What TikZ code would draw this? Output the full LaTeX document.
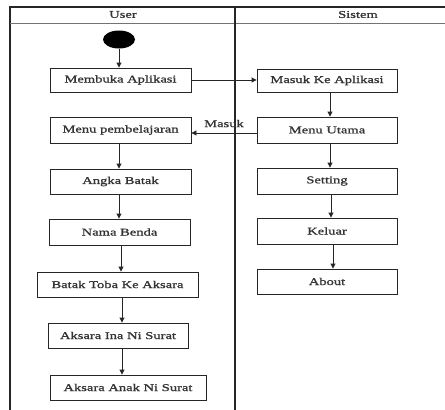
\documentclass[tikz,border=0pt]{standalone}
\usepackage{fontspec}
\setmainfont{Liberation Serif}[FakeStretch=1.4,FakeBold=1.2]
\usetikzlibrary{arrows.meta,shapes.geometric}
\begin{document}
\begin{tikzpicture}[x=1pt,y=-1pt,
  act/.style={draw=black!85, line width=0.9pt, rectangle, inner sep=0pt, font=\fontsize{10.4}{12}\selectfont, text=black!80},
  flow/.style={draw=black!85, line width=0.9pt, -{Triangle[length=5pt,width=5pt]}},
  lane/.style={draw=black!85, line width=1.3pt}]
\useasboundingbox (0,0) rectangle (445,410);
\begin{scope}
\clip (0,0) rectangle (445,410);
% swimlane frame
\draw[lane] (10,410) -- (10,7) -- (460,7);
\draw[draw=black!55, line width=1.3pt] (10,23.5) -- (460,23.5);
\draw[lane] (235,7) -- (235,410);
\end{scope}
\node[font=\fontsize{10.4}{12}\selectfont, text=black!80] (user) at (123,14.5) {User};
\node[font=\fontsize{10.4}{12}\selectfont, text=black!80] (sistem) at (358,14.5) {Sistem};
% start
\node[fill=black, ellipse, minimum width=32pt, minimum height=18pt, inner sep=0pt] (start) at (119,39.5) {};
% user lane
\node[act, minimum width=141pt, minimum height=24pt] (membuka) at (120.5,80) {Membuka Aplikasi};
\node[act, minimum width=141pt, minimum height=26pt] (menupb) at (120.5,130) {Menu pembelajaran};
\node[act, minimum width=141pt, minimum height=25pt] (angka) at (120.5,181.5) {Angka Batak};
\node[act, minimum width=141pt, minimum height=26pt] (nama) at (119.5,232) {Nama Benda};
\node[act, minimum width=161pt, minimum height=25pt] (toba) at (117.5,284.5) {Batak Toba Ke Aksara};
\node[act, minimum width=140pt, minimum height=25pt] (ina) at (118,335.5) {Aksara Ina Ni Surat};
\node[act, minimum width=156pt, minimum height=25pt] (anak) at (128,387.5) {Aksara Anak Ni Surat};
% system lane
\node[act, minimum width=140pt, minimum height=23pt] (masukke) at (327,80.5) {Masuk Ke Aplikasi};
\node[act, minimum width=140pt, minimum height=26pt] (utama) at (327,130) {Menu Utama};
\node[act, minimum width=140pt, minimum height=26pt] (setting) at (327,181) {Setting};
\node[act, minimum width=140pt, minimum height=26pt] (keluar) at (327,231) {Keluar};
\node[act, minimum width=140pt, minimum height=25pt] (about) at (327,281.5) {About};
% flows
\draw[flow] (start.south) -- (start.south |- membuka.north);
\draw[flow] (membuka.east) -- (masukke.west |- membuka.east);
\draw[flow] (masukke.south -| 330,0) -- (330,0 |- utama.north);
\draw[flow] (utama.west |- 0,133) -- node[above, font=\fontsize{10.4}{12}\selectfont, text=black!80, yshift=2pt] (lbl) {Masuk} (menupb.east |- 0,133);
\draw[flow] (menupb.south -| 119,0) -- (119,0 |- angka.north);
\draw[flow] (angka.south -| 119,0) -- (119,0 |- nama.north);
\draw[flow] (nama.south -| 121,0) -- (121,0 |- toba.north);
\draw[flow] (toba.south -| 122,0) -- (122,0 |- ina.north);
\draw[flow] (ina.south -| 122,0) -- (122,0 |- anak.north);
\draw[flow] (utama.south -| 330,0) -- (330,0 |- setting.north);
\draw[flow] (setting.south -| 331,0) -- (331,0 |- keluar.north);
\draw[flow] (keluar.south -| 333,0) -- (333,0 |- about.north);
\end{tikzpicture}
\end{document}
